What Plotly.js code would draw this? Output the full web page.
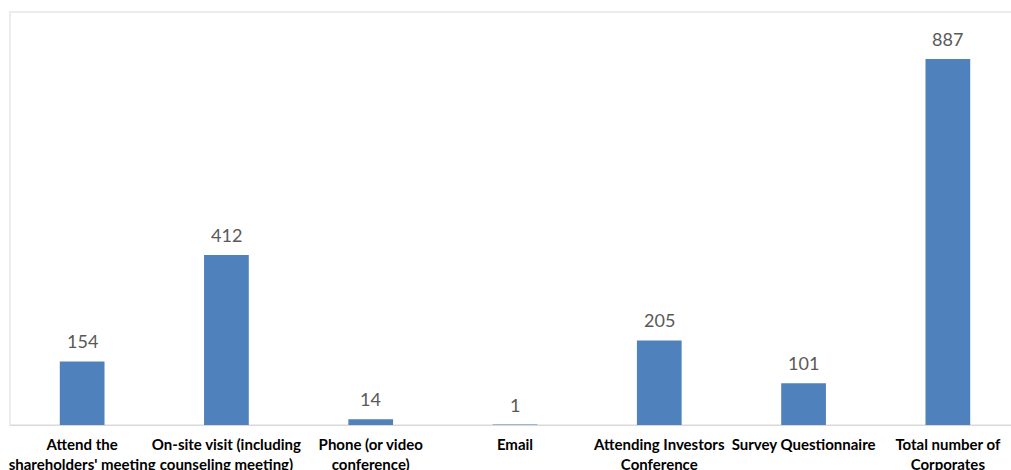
<!DOCTYPE html>
<html>
<head>
<meta charset="utf-8">
<script src="https://cdn.plot.ly/plotly-3.0.1.min.js"></script>
<style>html,body{margin:0;padding:0;overflow:hidden;background:#fff;}#chart{width:1021px;height:470px;}</style>
</head>
<body>
<div id="chart"></div>
<script>
const categories = [
  "Attend the<br>shareholders' meeting",
  "On-site visit (including<br>counseling meeting)",
  "Phone (or video<br>conference)",
  "Email",
  "Attending Investors<br>Conference",
  "Survey Questionnaire",
  "Total number of<br>Corporates"
];
const values = [154, 412, 14, 1, 205, 101, 887];

const trace = {
  type: 'bar',
  x: categories,
  y: values,
  marker: {color: '#4f81bd'},
  width: 0.31,
  hoverinfo: 'none'
};

const annotations = categories.map((c, i) => ({
  x: c, y: values[i], xref: 'x', yref: 'y',
  text: String(values[i]),
  showarrow: false,
  yanchor: 'bottom',
  yshift: 7,
  font: {family: 'Lato, "Open Sans", sans-serif', size: 18, color: '#595959'}
}));

const layout = {
  width: 1021,
  height: 470,
  margin: {l: 10, r: 1, t: 12, b: 45, pad: 0},
  paper_bgcolor: '#ffffff',
  plot_bgcolor: '#ffffff',
  showlegend: false,
  xaxis: {
    showline: true,
    linecolor: '#d9d9d9',
    linewidth: 1,
    ticks: '',
    showgrid: false,
    zeroline: false,
    tickangle: 0,
    ticklabelstandoff: 6,
    tickfont: {family: 'Lato, "Open Sans", sans-serif', size: 15, color: '#000000', weight: 'bold'},
    automargin: false
  },
  yaxis: {
    range: [0, 1001],
    showgrid: false,
    zeroline: false,
    showticklabels: false,
    showline: false,
    ticks: ''
  },
  annotations: annotations,
  shapes: [{
    type: 'rect', xref: 'paper', yref: 'paper',
    x0: 0, x1: 1, y0: 0, y1: 1,
    line: {color: '#ececec', width: 2},
    layer: 'below'
  }]
};

Plotly.newPlot('chart', [trace], layout, {displayModeBar: false, staticPlot: true});
</script>
</body>
</html>
